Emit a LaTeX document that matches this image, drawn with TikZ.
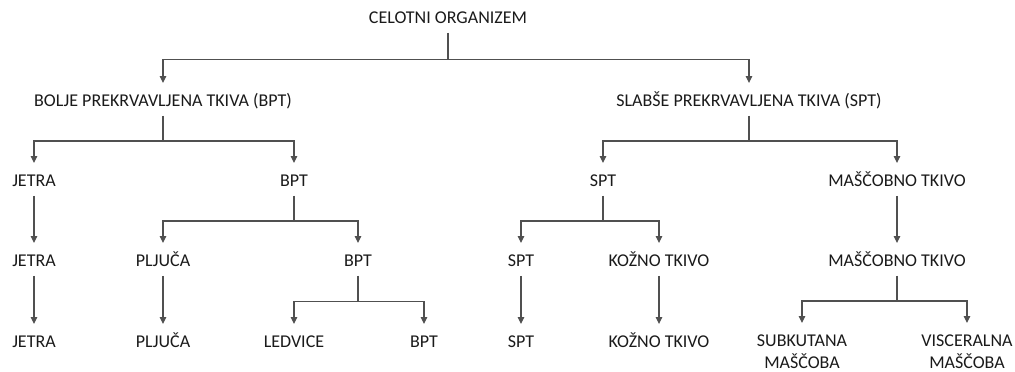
\documentclass[tikz,border=0pt]{standalone}
\usepackage{fontspec}
\setmainfont{Carlito}
\usetikzlibrary{arrows.meta,calc}
\definecolor{ink}{HTML}{1A1A1A}
\definecolor{wire}{HTML}{505050}
\begin{document}
\begin{tikzpicture}[x=1pt,y=-1pt,
  lbl/.style={font=\fontsize{18}{22}\selectfont, text=ink, inner xsep=0pt,
    inner ysep=9pt, text height=11.5pt, text depth=0pt},
  lbltwo/.style={font=\fontsize{18}{22}\selectfont, text=ink, inner xsep=0pt,
    inner ysep=9pt, align=center, anchor=north},
  link/.style={draw=wire, line width=1.1pt,
    -{Triangle[width=6.5pt,length=7pt]}, shorten >=3pt},
  fork/.style={to path={(\tikztostart) |- ($(\tikztostart)!.5!(\tikztotarget)$)
    -| (\tikztotarget)}}
]
\useasboundingbox (0,0) rectangle (1015,372);

% level 0
\node[lbl] (root) at (448,18) {CELOTNI ORGANIZEM};

% level 1
\node[lbl] (bpt1) at (163,101) {BOLJE PREKRVAVLJENA TKIVA (BPT)};
\node[lbl] (spt1) at (749,101) {SLABŠE PREKRVAVLJENA TKIVA (SPT)};

% level 2
\node[lbl] (jet2) at (34,181) {JETRA};
\node[lbl] (bpt2) at (294,181) {BPT};
\node[lbl] (spt2) at (603,181) {SPT};
\node[lbl] (mas2) at (897,181) {MAŠČOBNO TKIVO};

% level 3
\node[lbl] (jet3) at (34,261) {JETRA};
\node[lbl] (plj3) at (163,261) {PLJUČA};
\node[lbl] (bpt3) at (358,261) {BPT};
\node[lbl] (spt3) at (521,261) {SPT};
\node[lbl] (koz3) at (659,261) {KOŽNO TKIVO};
\node[lbl] (mas3) at (897,261) {MAŠČOBNO TKIVO};

% level 4
\node[lbl] (jet4) at (34,342) {JETRA};
\node[lbl] (plj4) at (163,342) {PLJUČA};
\node[lbl] (led4) at (294,342) {LEDVICE};
\node[lbl] (bpt4) at (424,342) {BPT};
\node[lbl] (spt4) at (521,342) {SPT};
\node[lbl] (koz4) at (659,342) {KOŽNO TKIVO};
\node[lbltwo] (sub4) at (802,326) {SUBKUTANA\\MAŠČOBA};
\node[lbltwo] (vis4) at (967,326) {VISCERALNA\\MAŠČOBA};

% branching connectors
\draw[link] (root.south) to[fork] (bpt1.north);
\draw[link] (root.south) to[fork] (spt1.north);
\draw[link] (bpt1.south) to[fork] (jet2.north);
\draw[link] (bpt1.south) to[fork] (bpt2.north);
\draw[link] (spt1.south) to[fork] (spt2.north);
\draw[link] (spt1.south) to[fork] (mas2.north);
\draw[link] (bpt2.south) to[fork] (plj3.north);
\draw[link] (bpt2.south) to[fork] (bpt3.north);
\draw[link] (spt2.south) to[fork] (spt3.north);
\draw[link] (spt2.south) to[fork] (koz3.north);
\draw[link] (bpt3.south) to[fork] (led4.north);
\draw[link] (bpt3.south) to[fork] (bpt4.north);
\draw[link] (mas3.south) to[fork] (sub4.north);
\draw[link] (mas3.south) to[fork] (vis4.north);

% straight connectors
\draw[link] (jet2.south) -- (jet3.north);
\draw[link] (mas2.south) -- (mas3.north);
\draw[link] (jet3.south) -- (jet4.north);
\draw[link] (plj3.south) -- (plj4.north);
\draw[link] (spt3.south) -- (spt4.north);
\draw[link] (koz3.south) -- (koz4.north);
\end{tikzpicture}
\end{document}
